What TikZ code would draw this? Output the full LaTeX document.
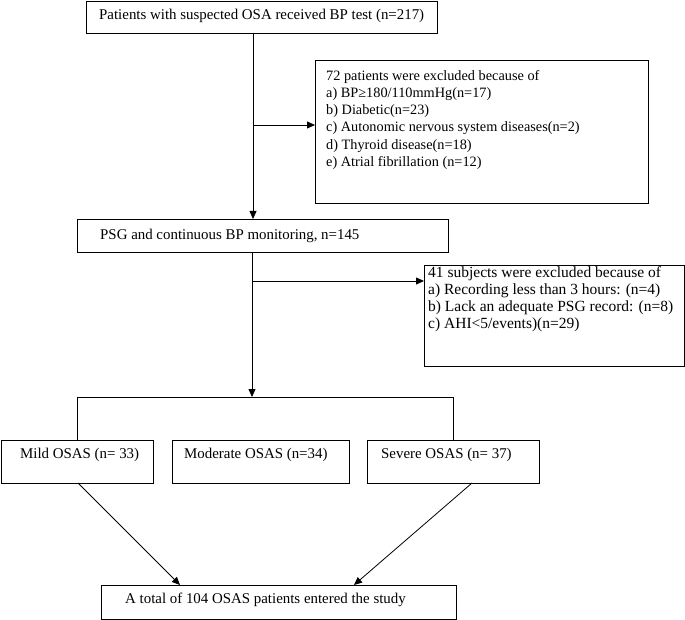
\documentclass[tikz,border=0pt]{standalone}
\usepackage{fontspec}
\setmainfont{Liberation Serif}
\usetikzlibrary{arrows.meta,calc}
\begin{document}
\begin{tikzpicture}[x=1pt,y=-1pt,
  box/.style={draw, line width=1pt, inner sep=0pt, anchor=north west},
  conn/.style={line width=0.8pt},
  arr/.style={line width=0.8pt, -{Triangle[length=8pt,width=7pt]}},
  txt/.style={font=\fontsize{14.9}{17}\selectfont, inner sep=0pt, align=left},
  extxt/.style={txt, font=\fontsize{14.3}{17.2}\selectfont},
  extxtb/.style={txt, font=\fontsize{15.5}{17}\selectfont}]
\useasboundingbox (0,0) rectangle (685,620);
% boxes
\node[box, minimum width=351pt, minimum height=32pt] (b1) at (86,1) {};
\node[txt, anchor=west] (b1t) at (99,16) {Patients with suspected OSA received BP test (n=217)};
\node[box, minimum width=333pt, minimum height=143pt] (ex1) at (315,60) {};
\node[extxt, anchor=north west] (ex1t) at (326,70) {72 patients were excluded because of\\
a) BP≥180/110mmHg(n=17)\\
b) Diabetic(n=23)\\
c) Autonomic nervous system diseases(n=2)\\
d) Thyroid disease(n=18)\\
e) Atrial fibrillation (n=12)};
\node[box, minimum width=371pt, minimum height=33pt] (b2) at (77,219) {};
\node[txt, anchor=west] (b2t) at (100,236) {PSG and continuous BP monitoring, n=145};
\node[box, minimum width=260pt, minimum height=101pt] (ex2) at (424,265) {};
\node[extxtb, anchor=north west] (ex2t) at (428,266) {41 subjects were excluded because of\\
a) Recording less than 3 hours: (n=4)\\
b) Lack an adequate PSG record: (n=8)\\
c) AHI<5/events)(n=29)};
\node[box, minimum width=152pt, minimum height=43pt] (mild) at (1,440) {};
\node[txt, anchor=west] (mildt) at (20,455) {Mild OSAS (n= 33)};
\node[box, minimum width=177pt, minimum height=43pt] (mod) at (172,440) {};
\node[txt, anchor=west] (modt) at (184,455) {Moderate OSAS (n=34)};
\node[box, minimum width=172pt, minimum height=43pt] (sev) at (367,440) {};
\node[txt, anchor=west] (sevt) at (381,455) {Severe OSAS (n= 37)};
\node[box, minimum width=355pt, minimum height=34pt] (fin) at (101,585) {};
\node[txt, anchor=west] (fint) at (125,600) {A total of 104 OSAS patients entered the study};
% connectors
\coordinate (s1top) at (253,33);
\coordinate (j1) at (253,125);
\draw[arr] (s1top) -- (s1top |- b2.north);
\draw[arr] (j1) -- (j1 -| ex1.west);
\coordinate (s2) at (252,252);
\coordinate (j2) at (252,281);
\coordinate (sp) at (252,397);
\draw[arr] (s2) -- (sp);
\draw[arr] (j2) -- (j2 -| ex2.west);
\draw[conn] (mild.north) -- (mild.north |- sp) -- (sev.north |- sp) -- (sev.north);
\coordinate (m1) at (78,483);
\coordinate (f1) at (180,585);
\coordinate (s1) at (472,483);
\coordinate (f2) at (354,585);
\draw[arr] (m1) -- (f1);
\draw[arr] (s1) -- (f2);
\end{tikzpicture}
\end{document}
